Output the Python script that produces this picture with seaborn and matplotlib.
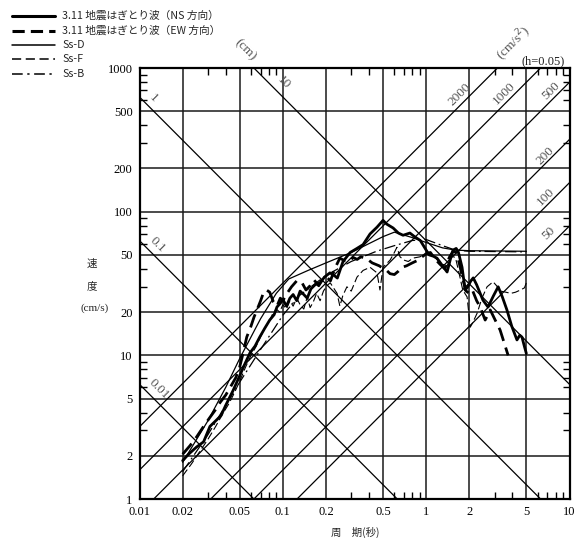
import numpy as np
import pandas as pd
import matplotlib
matplotlib.use('Agg')
import matplotlib.pyplot as plt
import seaborn as sns
from matplotlib.lines import Line2D
from matplotlib.ticker import FixedLocator, NullFormatter, FixedFormatter

# ---------------- data ----------------
x_ticks = [0.01, 0.02, 0.05, 0.1, 0.2, 0.5, 1, 2, 5, 10]
x_labels = ["0.01", "0.02", "0.05", "0.1", "0.2", "0.5", "1", "2", "5", "10"]
y_ticks = [1, 2, 5, 10, 20, 50, 100, 200, 500, 1000]
y_labels = ["1", "2", "5", "10", "20", "50", "100", "200", "500", "1000"]

disp_lines = [0.01, 0.1, 1, 10]                 # cm
acc_lines = [50, 100, 200, 500, 1000, 2000]     # cm/s^2

ns_T = [0.020, 0.022, 0.025, 0.028, 0.031, 0.034, 0.037, 0.040, 0.045, 0.050,
        0.054, 0.059, 0.064, 0.069, 0.075, 0.081, 0.087, 0.091, 0.096, 0.100,
        0.106, 0.112, 0.118, 0.125, 0.132, 0.140, 0.148, 0.157, 0.168, 0.182,
        0.195, 0.213, 0.228, 0.240, 0.263, 0.295, 0.329, 0.363, 0.406, 0.454,
        0.500, 0.530, 0.588, 0.640, 0.690, 0.770, 0.830, 0.910, 1.000, 1.050,
        1.120, 1.190, 1.300, 1.400, 1.470, 1.540, 1.620, 1.680, 1.780, 1.870,
        1.950, 2.050, 2.130, 2.250, 2.490, 2.700, 2.950, 3.180, 3.400, 3.660,
        3.950, 4.300, 4.500, 4.660, 4.850, 5.000]
ns_V = [1.85, 2.05, 2.3, 2.5, 3.2, 3.5, 3.8, 4.5, 5.7, 7.2,
        8.6, 10.4, 11.6, 13.4, 15.5, 17.6, 19.2, 21.7, 23.0, 24.5,
        22.0, 25.0, 26.5, 24.0, 28.0, 26.5, 25.0, 29.0, 31.0, 32.0,
        35.0, 37.5, 36.0, 34.5, 45.0, 52.0, 55.5, 59.0, 70.0, 78.0,
        87.0, 82.0, 77.0, 71.0, 68.5, 71.0, 67.0, 63.0, 54.0, 50.0,
        49.0, 47.5, 42.0, 38.0, 46.0, 54.0, 55.5, 52.0, 41.0, 28.5,
        30.0, 33.0, 34.6, 31.0, 24.2, 21.7, 26.0, 30.0, 25.5, 20.7,
        16.0, 12.8, 13.8, 13.4, 11.5, 10.3]

ew_T = [0.020, 0.0225, 0.025, 0.028, 0.031, 0.034, 0.0365, 0.040, 0.043, 0.047,
        0.050, 0.053, 0.056, 0.060, 0.063, 0.066, 0.070, 0.073, 0.077, 0.081,
        0.086, 0.091, 0.096, 0.100, 0.107, 0.115, 0.125, 0.135, 0.145, 0.155,
        0.165, 0.178, 0.190, 0.203, 0.215, 0.230, 0.250, 0.270, 0.290, 0.310,
        0.330, 0.350, 0.380, 0.420, 0.470, 0.530, 0.560, 0.600, 0.640, 0.680,
        0.730, 0.800, 0.880, 0.950, 1.000, 1.070, 1.150, 1.250, 1.350, 1.450,
        1.540, 1.620, 1.700, 1.800, 1.900, 2.000, 2.100, 2.250, 2.380, 2.580,
        2.800, 3.030, 3.280, 3.450, 3.730]
ew_V = [2.05, 2.35, 2.7, 3.2, 3.7, 4.2, 4.7, 5.3, 6.0, 7.0,
        8.3, 10.5, 13.4, 16.0, 18.5, 20.7, 24.0, 27.0, 28.5, 27.5,
        23.5, 22.0, 25.0, 24.0, 27.0, 30.0, 33.0, 32.5, 28.5, 30.5,
        33.5, 30.5, 34.0, 35.0, 33.0, 40.0, 47.5, 45.5, 45.0, 48.0,
        46.5, 48.5, 47.5, 44.0, 42.0, 39.0, 37.0, 36.5, 38.5, 41.0,
        42.0, 44.0, 46.0, 49.0, 51.0, 52.0, 47.0, 43.0, 40.0, 48.0,
        53.0, 52.0, 44.0, 34.0, 28.0, 27.0, 28.5, 24.0, 21.7, 17.6,
        20.7, 17.6, 15.0, 12.8, 10.0]

ssd_T = [0.02, 0.03, 0.04, 0.05, 0.07, 0.09, 0.11, 0.15, 0.2, 0.3,
         0.4, 0.5, 0.6, 0.8, 1.0, 1.3, 1.6, 2.0, 5.0]
ssd_V = [1.8, 3.5, 6.0, 9.5, 18.0, 27.0, 34.0, 39.0, 44.0, 52.0,
         60.0, 67.0, 72.0, 66.0, 61.0, 56.0, 54.0, 53.5, 53.0]

ssf_T = [0.020, 0.023, 0.026, 0.030, 0.034, 0.038, 0.042, 0.046, 0.050, 0.055,
         0.060, 0.065, 0.070, 0.075, 0.080, 0.085, 0.090, 0.095, 0.100, 0.106,
         0.112, 0.118, 0.125, 0.132, 0.140, 0.148, 0.155, 0.163, 0.172, 0.182,
         0.192, 0.203, 0.214, 0.239, 0.250, 0.262, 0.280, 0.300, 0.329, 0.363,
         0.406, 0.454, 0.476, 0.500, 0.560, 0.600, 0.625, 0.657, 0.700, 0.750,
         0.810, 0.905, 1.000, 1.100, 1.200, 1.300, 1.400, 1.500, 1.600, 1.700,
         1.800, 1.930, 2.030, 2.120, 2.270, 2.450, 2.660, 2.930, 3.100, 3.300,
         3.600, 3.900, 4.200, 4.550, 4.850, 5.000]
ssf_V = [1.45, 1.75, 2.1, 2.6, 3.2, 3.9, 4.6, 5.5, 6.6, 8.3,
         10.0, 11.5, 13.5, 15.5, 17.0, 19.5, 21.0, 20.0, 22.5, 21.0,
         24.0, 22.0, 25.0, 22.5, 21.0, 25.5, 21.5, 23.5, 27.0, 24.0,
         28.0, 30.5, 32.0, 27.0, 22.0, 26.0, 30.0, 28.0, 35.0, 39.0,
         41.0, 37.5, 28.5, 41.0, 46.0, 52.0, 56.5, 48.5, 46.0, 45.0,
         47.5, 48.5, 51.0, 50.0, 46.0, 43.0, 42.0, 49.0, 48.0, 37.0,
         28.5, 25.5, 15.7, 17.0, 19.7, 25.0, 30.0, 32.5, 30.5, 28.0,
         27.5, 27.0, 27.5, 28.5, 29.5, 32.0]

ssb_T = [0.02, 0.03, 0.05, 0.07, 0.1, 0.13, 0.2, 0.3, 0.45, 0.6,
         0.8, 1.0, 1.3, 1.6, 2.0, 5.0]
ssb_V = [1.55, 2.8, 6.5, 11.0, 19.0, 26.0, 36.0, 45.0, 53.0, 58.0,
         63.0, 64.0, 58.0, 54.0, 53.0, 52.5]

legend_labels = ["3.11 地震はぎとり波（NS 方向）", "3.11 地震はぎとり波（EW 方向）",
                 "Ss-D", "Ss-F", "Ss-B"]

# ---------------- figure ----------------
sns.set_theme(style='white')
plt.rcParams['font.family'] = ['Liberation Serif', 'Noto Sans CJK JP', 'DejaVu Sans']
plt.rcParams['axes.unicode_minus'] = False

W, H = 579, 538
fig = plt.figure(figsize=(W / 100, H / 100), dpi=100)
fig.patch.set_facecolor('white')
L, R, B, T = 139.5, 569.5, 499, 68
ax = fig.add_axes([L / W, 1 - B / H, (R - L) / W, (B - T) / H])
ax.set_facecolor('white')
ax.set_xscale('log')
ax.set_yscale('log')
ax.set_xlim(0.01, 10)
ax.set_ylim(1, 1000)

# grid
ax.xaxis.set_major_locator(FixedLocator(x_ticks))
ax.xaxis.set_major_formatter(FixedFormatter(x_labels))
ax.yaxis.set_major_locator(FixedLocator(y_ticks))
ax.yaxis.set_major_formatter(FixedFormatter(y_labels))
minor = []
for d in [0.01, 0.1, 1, 10, 100]:
    for s in [3, 4, 6, 7, 8, 9]:
        minor.append(d * s)
ax.xaxis.set_minor_locator(FixedLocator([m for m in minor if 0.01 < m < 10]))
ax.yaxis.set_minor_locator(FixedLocator([m * 100 for m in minor if 1 < m * 100 < 1000]))
ax.xaxis.set_minor_formatter(NullFormatter())
ax.yaxis.set_minor_formatter(NullFormatter())
ax.grid(True, which='major', color='#1a1a1a', lw=1.1)
ax.tick_params(which='major', length=0, labelsize=9, pad=5, colors='black')
ax.tick_params(which='minor', direction='in', length=5, width=1.0,
               top=True, right=True, bottom=True, left=True, color='black')
for lab in ax.get_xticklabels() + ax.get_yticklabels():
    lab.set_family('Liberation Serif')
for s in ax.spines.values():
    s.set_color('black')
    s.set_linewidth(1.6)

# tripartite lines
Tline = np.array([1e-4, 1e3])
for sd in disp_lines:
    ax.plot(Tline, 2 * np.pi * sd / Tline, color='black', lw=0.9, zorder=2)
for sa in acc_lines:
    ax.plot(Tline, sa * Tline / (2 * np.pi), color='black', lw=0.9, zorder=2)

# spectra
rows = []
for name, tt, vv in [("NS", ns_T, ns_V), ("EW", ew_T, ew_V), ("Ss-D", ssd_T, ssd_V),
                     ("Ss-F", ssf_T, ssf_V), ("Ss-B", ssb_T, ssb_V)]:
    for a, b in zip(tt, vv):
        rows.append((name, a, b))
df = pd.DataFrame(rows, columns=["series", "T", "Sv"])

styles = {
    "Ss-D": dict(lw=0.9, dashes=None),
    "Ss-B": dict(lw=0.9, dashes=(9, 3, 1.5, 3)),
    "Ss-F": dict(lw=0.8, dashes=(7, 3)),
    "EW": dict(lw=2.0, dashes=(5, 2.5)),
    "NS": dict(lw=2.0, dashes=None),
}
for name in ["Ss-D", "Ss-B", "Ss-F", "EW", "NS"]:
    st = styles[name]
    sub = df[df.series == name]
    sns.lineplot(data=sub, x="T", y="Sv", ax=ax, color='black', lw=st['lw'],
                 estimator=None, sort=False, legend=False, zorder=4)
    line = ax.lines[-1]
    if st['dashes'] is not None:
        line.set_dashes(st['dashes'])
    line.set_solid_joinstyle('round')
ax.set_xlabel('')
ax.set_ylabel('')

def fx(x):
    return x / W

def fy(y):
    return 1 - y / H

# diagonal labels
lab_col = '#555555'
for txt, x, y in [("1", 153, 98), ("0.1", 158, 245), ("0.01", 159, 389), ("10", 284, 83)]:
    fig.text(fx(x), fy(y), txt, rotation=-45, ha='center', va='center', fontsize=9.5,
             color=lab_col, family='Liberation Serif', rotation_mode='anchor')
for txt, x, y in [("2000", 460, 95), ("1000", 504, 93), ("500", 551, 91),
                  ("200", 545, 156), ("100", 546, 197), ("50", 549, 233)]:
    fig.text(fx(x), fy(y), txt, rotation=45, ha='center', va='center', fontsize=9.5,
             color=lab_col, family='Liberation Serif', rotation_mode='anchor')
fig.text(fx(245), fy(50), "(cm)", rotation=-45, ha='center', va='center', fontsize=9.5,
         color=lab_col, family='Liberation Serif', rotation_mode='anchor')
fig.text(fx(514), fy(44), "(cm/s$^2$)", rotation=45, ha='center', va='center', fontsize=9.5,
         color=lab_col, family='Liberation Serif', rotation_mode='anchor')
fig.text(fx(543), fy(61), "(h=0.05)", ha='center', va='center', fontsize=9,
         color='#222222', family='Liberation Serif')

# axis labels
fig.text(fx(92), fy(264), "速", ha='center', va='center', fontsize=7.5,
         family=['Noto Sans CJK JP'])
fig.text(fx(92), fy(286), "度", ha='center', va='center', fontsize=7.5,
         family=['Noto Sans CJK JP'])
fig.text(fx(95), fy(308), "(cm/s)", ha='center', va='center', fontsize=8,
         family='Liberation Serif')
fig.text(fx(355), fy(532), "周　期(秒)", ha='center', va='center', fontsize=7.5,
         family=['Noto Sans CJK JP', 'DejaVu Sans'])

# legend
leg_y = [16, 30.5, 45, 59.5, 74]
leg_styles = [dict(lw=2.2, dashes=None), dict(lw=2.2, dashes=(4, 2)),
              dict(lw=1.1, dashes=None), dict(lw=1.1, dashes=(6, 3)),
              dict(lw=1.1, dashes=(7, 3, 1.5, 3))]
for yy, st, txt in zip(leg_y, leg_styles, legend_labels):
    ln = Line2D([fx(12), fx(55)], [fy(yy), fy(yy)], transform=fig.transFigure,
                color='black', lw=st['lw'])
    if st['dashes'] is not None:
        ln.set_dashes(st['dashes'])
    fig.add_artist(ln)
    fig.text(fx(62), fy(yy), txt, ha='left', va='center', fontsize=7.7,
             family=['Noto Sans CJK JP', 'DejaVu Sans'])

fig.savefig('out.png', dpi=100, facecolor='white')
